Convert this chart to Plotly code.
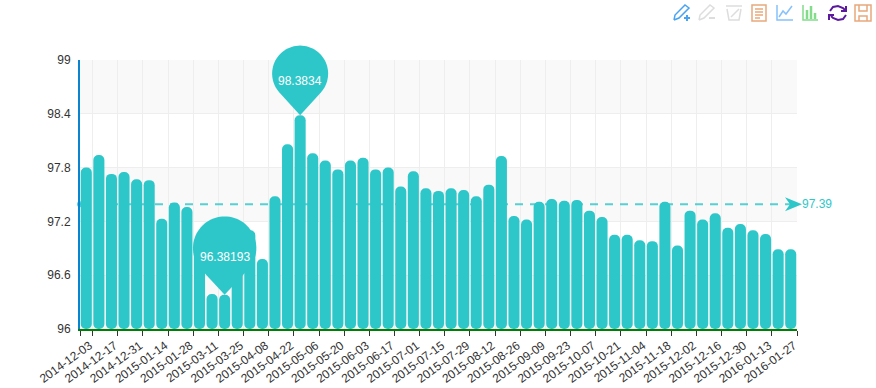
import math
import plotly.graph_objects as go

labels = ["2014-12-03","2014-12-17","2014-12-31","2015-01-14","2015-01-28","2015-03-11","2015-03-25","2015-04-08",
          "2015-04-22","2015-05-06","2015-05-20","2015-06-03","2015-06-17","2015-07-01","2015-07-15","2015-07-29",
          "2015-08-12","2015-08-26","2015-09-09","2015-09-23","2015-10-07","2015-10-21","2015-11-04","2015-11-18",
          "2015-12-02","2015-12-16","2015-12-30","2016-01-13","2016-01-27"]
values = [97.80,97.94,97.73,97.75,97.67,97.66,97.23,97.41,97.36,96.95,
          96.39,96.38193,97.00,97.10,96.78,97.48,98.06,98.3834,97.96,97.88,
          97.78,97.88,97.91,97.78,97.80,97.59,97.76,97.57,97.54,97.57,
          97.55,97.48,97.61,97.93,97.26,97.22,97.42,97.45,97.43,97.44,
          97.32,97.25,97.05,97.05,96.99,96.98,97.42,96.93,97.32,97.22,
          97.29,97.13,97.17,97.10,97.06,96.89,96.89]
y_ticks = [96,96.6,97.2,97.8,98.4,99]
y_base = 96
y_top = 99
mean_value = 97.39
max_index, min_index = 17, 11
TEAL = "#2ec7c9"
FONT = "Liberation Sans"
L, R, T, B = 80, 79, 60, 59

n = len(values)
x = list(range(n))
tick_pos = [-0.5] + [i + 0.5 for i in range(0, n, 2)]
tick_txt = [""] + labels

def pin(r, d):
    a = math.asin(r / d)
    start, end = math.pi + a, -a
    pts = ["M0,0"]
    steps = 60
    for k in range(steps + 1):
        t = start + (end - start) * k / steps
        pts.append(f"L{r*math.cos(t):.2f},{d + r*math.sin(t):.2f}")
    pts.append("Z")
    return " ".join(pts)

fig = go.Figure()
fig.add_bar(x=x, y=[v - y_base for v in values], base=[y_base] * n, marker=dict(color=TEAL, cornerradius=5, line_width=0), width=0.88, showlegend=False)
fig.add_scatter(x=[-0.5, n - 0.5], y=[mean_value] * 2, mode="lines", line=dict(color=TEAL, width=2, dash="8px,7px"), opacity=0.8, showlegend=False, cliponaxis=False)
fig.add_scatter(x=[-0.5], y=[mean_value], mode="markers", marker=dict(symbol="circle", size=6, color=TEAL), opacity=0.8, showlegend=False, cliponaxis=False)

shapes = []
for i, (a, b) in enumerate(zip(y_ticks[:-1], y_ticks[1:])):
    if i % 2 == 0:
        shapes.append(dict(type="rect", xref="paper", x0=0, x1=1, yref="y", y0=a, y1=b, fillcolor="#f9f9f9", line_width=0, layer="below"))
for idx, r, d in ((max_index, 28, 41.7), (min_index, 31.7, 46.6)):
    # paper-anchored so that the pin may rise above the plot box without being clipped
    shapes.append(dict(type="path", xref="paper", yref="paper", xsizemode="pixel", ysizemode="pixel",
                       xanchor=(idx + 0.5) / n, yanchor=(values[idx] - y_base) / (y_top - y_base),
                       path=pin(r, d), fillcolor=TEAL, line_width=0, layer="above"))
# arrow head of the mean line, sticking out of the plot box on the right
shapes.append(dict(type="path", xref="paper", yref="paper", xsizemode="pixel", ysizemode="pixel",
                   xanchor=1, yanchor=(mean_value - y_base) / (y_top - y_base),
                   path="M5,0 L-12,7 L-7,0 L-12,-7 Z", fillcolor=TEAL, line_width=0, layer="above"))

def icon(path, color, fill=None, w=1.5):
    shapes.append(dict(type="path", xref="paper", yref="paper", xsizemode="pixel", ysizemode="pixel", xanchor=0, yanchor=1,
                       path=path, line=dict(color=color, width=w), fillcolor=fill or "rgba(0,0,0,0)", layer="above"))

def P(*pts, close=False):
    s = " ".join(("M" if i == 0 else "L") + f"{px - L},{T - py}" for i, (px, py) in enumerate(pts))
    return s + (" Z" if close else "")

BLUE, GRAY, ORANGE, LBLUE, GREEN, PURPLE = "#4aa3f0", "#dddddd", "#e8a87c", "#87c1fb", "#83dc8a", "#5b1a9c"
icon(P((674,20),(675,15),(685,5),(689,8),(679,18),(674,20)), BLUE)
icon(P((684,18),(690,18)) + " " + P((687,15),(687,21)), BLUE, w=2)
icon(P((699,20),(700,15),(710,5),(714,8),(704,18),(699,20)), GRAY)
icon(P((709,18),(715,18)), GRAY, w=2)
icon(P((727,9),(729,20),(739,20),(741,9)), GRAY)
icon(P((726,6),(742,6)) + " " + P((731,17),(739,9)), GRAY)
icon(P((752,5),(766,5),(766,21),(752,21),close=True), ORANGE)
icon(P((755,9),(763,9)) + " " + P((755,12),(763,12)) + " " + P((755,15),(763,15)) + " " + P((755,18),(760,18)), ORANGE)
icon(P((777,5),(777,20),(793,20)), LBLUE)
icon(P((779,17),(783,11),(786,14),(792,6)), LBLUE)
icon(P((803,5),(803,20),(818,20)), GREEN)
icon(P((807,10),(807,19)) + " " + P((811,6),(811,19)) + " " + P((815,13),(815,19)), GREEN, w=2.5)
icon(P((830,11),(833,7),(838,6),(843,8),(845,10)) + " " + P((846,6),(846,11),(841,11)), PURPLE, w=2)
icon(P((846,15),(843,19),(838,20),(833,18),(831,16)) + " " + P((829,20),(829,15),(834,15)), PURPLE, w=2)
icon(P((855,5),(871,5),(871,21),(855,21),close=True), ORANGE)
icon(P((859,5),(859,11),(867,11),(867,5)) + " " + P((859,21),(859,16),(867,16),(867,21)), ORANGE)

annotations = [
    dict(x=max_index, y=values[max_index], text="98.3834", showarrow=False, yshift=34, font=dict(color="white", size=12, family=FONT)),
    dict(x=min_index, y=values[min_index], text="96.38193", showarrow=False, yshift=38, font=dict(color="white", size=12, family=FONT)),
    dict(x=n - 0.5, y=mean_value, text="97.39", showarrow=False, xanchor="left", xshift=3, font=dict(color=TEAL, size=12, family=FONT)),
]

fig.update_layout(
    width=876, height=388, margin=dict(l=L, r=R, t=T, b=B, pad=0), barmode="overlay",
    paper_bgcolor="white", plot_bgcolor="rgba(0,0,0,0)", font=dict(family=FONT, size=12, color="#333333"),
    shapes=shapes, annotations=annotations, showlegend=False,
    xaxis=dict(range=[-0.5, n - 0.5], tickmode="array", tickvals=tick_pos, ticktext=tick_txt, tickangle=-36, automargin=False,
               ticklabelshift=-3, ticklabelstandoff=-2,
               ticks="outside", ticklen=5, tickcolor="#333333", tickwidth=1, showgrid=True, gridcolor="#eeeeee", gridwidth=1,
               showline=True, linecolor="#008000", linewidth=2, zeroline=False, tickfont=dict(size=12, color="#333333")),
    yaxis=dict(range=[y_base, y_top], tickmode="array", tickvals=y_ticks, ticktext=[f"{v:g}" for v in y_ticks], automargin=False,
               ticks="outside", ticklen=5, tickcolor="rgba(0,0,0,0)", showgrid=True, gridcolor="#eeeeee", gridwidth=1,
               showline=True, linecolor="#0a84d0", linewidth=2, zeroline=False, tickfont=dict(size=12, color="#333333")),
)
fig.write_html("out.html", post_script="document.body.style.margin='0';", config={"displayModeBar": False})
